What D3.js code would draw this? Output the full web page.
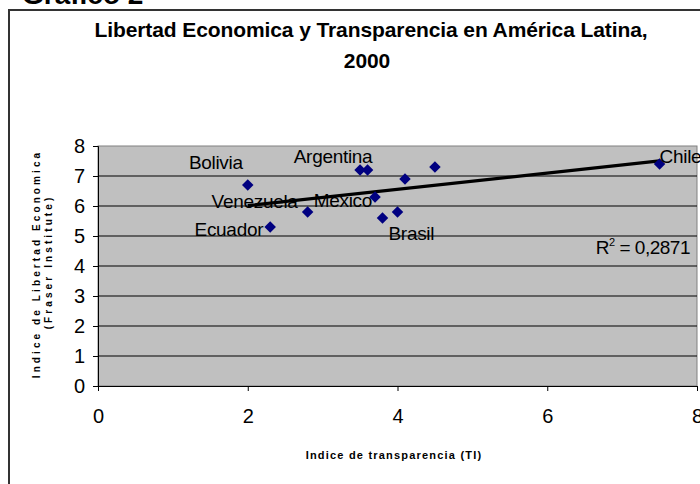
<!DOCTYPE html>
<html>
<head>
<meta charset="utf-8">
<script src="https://cdn.jsdelivr.net/npm/d3@7"></script>
<style>
  body { margin: 0; background: #fff; }
  svg { display: block; font-family: "Liberation Sans", Arial, sans-serif; }
</style>
</head>
<body>
<svg id="chart" width="700" height="484"></svg>
<script>
// values
const countries = ["Bolivia", "Ecuador", "Venezuela", "Argentina", "", "Mexico", "", "Brasil", "", "", "Chile"];
const transparency = [2.0, 2.3, 2.8, 3.5, 3.6, 3.7, 3.8, 4.0, 4.1, 4.5, 7.5];
const freedom = [6.7, 5.3, 5.8, 7.2, 7.2, 6.3, 5.6, 5.8, 6.9, 7.3, 7.4];
const xTicks = [0, 2, 4, 6, 8];
const yTicks = [0, 1, 2, 3, 4, 5, 6, 7, 8];
const rSquared = "0,2871";

const width = 700;
const height = 484;
const margin = { top: 146, right: 3, bottom: 98, left: 98 };

// where each data label sits relative to its point
const labelPlacement = {
  Bolivia: { dx: -5, dy: -16, anchor: "end" },
  Argentina: { dx: -27, dy: -7, anchor: "middle" },
  Venezuela: { dx: -10, dy: -4, anchor: "end" },
  Mexico: { dx: -3, dy: 10, anchor: "end" },
  Ecuador: { dx: -7, dy: 9, anchor: "end" },
  Brasil: { dx: -9, dy: 28, anchor: "start" },
  Chile: { dx: 0, dy: -1, anchor: "start" },
};

const points = transparency.map((tx, i) => ({ name: countries[i], x: tx, y: freedom[i] }));

const x = d3.scaleLinear().domain([0, 8]).range([margin.left, width - margin.right]);
const y = d3.scaleLinear().domain([0, 8]).range([height - margin.bottom, margin.top]);

const svg = d3.select("#chart");

// outer chart frame and caption above it
svg.append("rect")
  .attr("x", 9).attr("y", 10)
  .attr("width", 720).attr("height", 500)
  .attr("fill", "#fff")
  .attr("stroke", "#333")
  .attr("stroke-width", 2);

svg.append("text")
  .attr("x", 22).attr("y", 4)
  .attr("font-size", 28)
  .attr("font-weight", "bold")
  .text("Gráfico 2");

const title = svg.append("text")
  .attr("text-anchor", "middle")
  .attr("font-size", 21)
  .attr("font-weight", "bold")
  .attr("letter-spacing", -0.1);
title.append("tspan").attr("x", 371).attr("y", 37)
  .text("Libertad Economica y Transparencia en América Latina,");
title.append("tspan").attr("x", 367).attr("y", 68).text("2000");

// plot area
svg.append("rect")
  .attr("x", x(0)).attr("y", y(8))
  .attr("width", x(8) - x(0)).attr("height", y(0) - y(8))
  .attr("fill", "#c0c0c0")
  .attr("stroke", "#808080");

svg.append("g")
  .selectAll("line")
  .data(yTicks.filter((t) => t > 0 && t < 8))
  .join("line")
  .attr("x1", x(0)).attr("x2", x(8))
  .attr("y1", (t) => y(t)).attr("y2", (t) => y(t))
  .attr("stroke", "#000");

const xAxis = svg.append("g")
  .attr("transform", `translate(0,${y(0)})`)
  .call(d3.axisBottom(x).tickValues(xTicks).tickSize(5).tickPadding(18).tickFormat(d3.format("d")));

const yAxis = svg.append("g")
  .attr("transform", `translate(${x(0)},0)`)
  .call(d3.axisLeft(y).tickValues(yTicks).tickSize(5).tickPadding(8).tickFormat(d3.format("d")));

for (const axis of [xAxis, yAxis]) {
  axis.select(".domain").attr("stroke", "#000");
  axis.selectAll("text")
    .attr("font-family", "Liberation Sans, Arial, sans-serif")
    .attr("font-size", 20)
    .attr("fill", "#000");
}

// axis titles
svg.append("text")
  .attr("x", 394).attr("y", 459)
  .attr("text-anchor", "middle")
  .attr("font-size", 11)
  .attr("font-weight", "bold")
  .attr("letter-spacing", 1.2)
  .text("Indice de transparencia (TI)");

const yTitle = svg.append("text")
  .attr("transform", "rotate(-90)")
  .attr("text-anchor", "middle")
  .attr("font-size", 10)
  .attr("font-weight", "bold")
  .attr("letter-spacing", 3.1);
yTitle.append("tspan").attr("x", -264).attr("y", 40).text("Indice de Libertad Economica");
yTitle.append("tspan").attr("x", -262).attr("y", 52).text("(Fraser Institute)");

// linear trend fitted to the points
const mx = d3.mean(points, (p) => p.x);
const my = d3.mean(points, (p) => p.y);
const slope = d3.sum(points, (p) => (p.x - mx) * (p.y - my)) / d3.sum(points, (p) => (p.x - mx) ** 2);
const intercept = my - slope * mx;
const [xMin, xMax] = d3.extent(points, (p) => p.x);

svg.append("path")
  .datum([xMin, xMax])
  .attr("fill", "none")
  .attr("stroke", "#000")
  .attr("stroke-width", 3.2)
  .attr("d", d3.line().x((v) => x(v)).y((v) => y(intercept + slope * v)));

// markers
svg.append("g")
  .selectAll("path")
  .data(points)
  .join("path")
  .attr("transform", (p) => `translate(${x(p.x)},${y(p.y)}) rotate(45)`)
  .attr("d", d3.symbol(d3.symbolSquare, 66))
  .attr("fill", "#000080");

// data labels
svg.append("g")
  .selectAll("text")
  .data(points.filter((p) => p.name))
  .join("text")
  .attr("x", (p) => x(p.x) + labelPlacement[p.name].dx)
  .attr("y", (p) => y(p.y) + labelPlacement[p.name].dy)
  .attr("text-anchor", (p) => labelPlacement[p.name].anchor)
  .attr("font-size", 19)
  .attr("letter-spacing", -0.3)
  .text((p) => p.name);

const r2 = svg.append("text")
  .attr("x", 690).attr("y", 254)
  .attr("text-anchor", "end")
  .attr("font-size", 19)
  .attr("letter-spacing", -0.5);
r2.append("tspan").text("R");
r2.append("tspan").attr("font-size", 11).attr("dy", -8).text("2");
r2.append("tspan").attr("dy", 8).text(` = ${rSquared}`);
</script>
</body>
</html>
